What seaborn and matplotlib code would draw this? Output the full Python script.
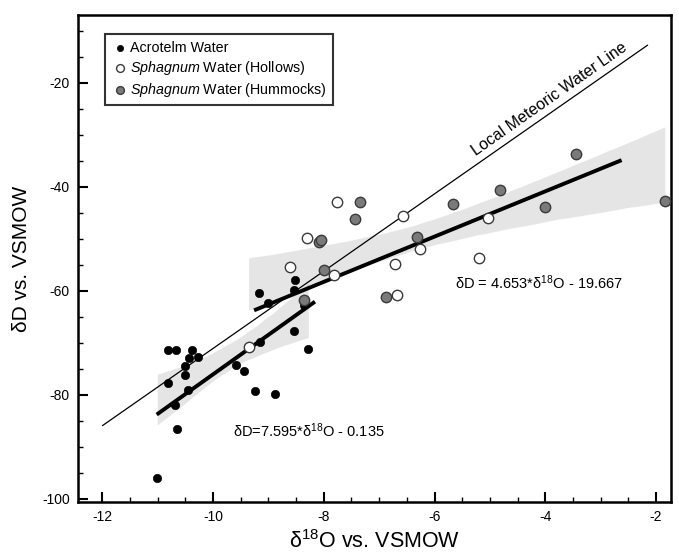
import numpy as np
import pandas as pd
import matplotlib
matplotlib.use('Agg')
import matplotlib.pyplot as plt
import seaborn as sns

# delta values (per mil vs VSMOW)
acro_d18o = [-10.81, -10.67, -10.38, -10.44, -10.27, -10.50, -10.51, -10.82, -10.45,
             -10.69, -10.66, -11.01, -9.59, -9.44, -9.15, -9.24, -8.89, -9.17, -9.00,
             -8.52, -8.53, -8.35, -8.54, -8.28]
acro_dD = [-71.4, -71.4, -71.4, -72.9, -72.8, -74.5, -76.3, -77.7, -79.2,
           -82.0, -86.7, -96.0, -74.2, -75.5, -69.9, -79.3, -79.8, -60.5, -62.4,
           -58.0, -59.8, -62.8, -67.8, -71.2]

hollow_d18o = [-9.36, -8.61, -8.30, -7.76, -7.82, -6.57, -6.71, -6.68, -6.26, -5.04, -5.20]
hollow_dD = [-70.8, -55.4, -49.8, -43.0, -56.9, -45.7, -54.8, -60.8, -51.9, -46.1, -53.8]

hummock_d18o = [-8.35, -8.08, -8.05, -7.99, -7.44, -7.34, -6.88, -6.31, -5.66, -4.82,
                -4.01, -3.44, -1.84]
hummock_dD = [-61.7, -50.7, -50.3, -56.0, -46.3, -42.9, -61.3, -49.6, -43.3, -40.7,
              -44.0, -33.7, -42.7]

# fitted lines (slope, intercept) as drawn on the chart, and their x spans
acro_fit = (7.595, -0.135)
acro_span = [-11.02, -8.16]
sph_fit = (4.35, -23.5)
sph_span = [-9.26, -2.62]

# local meteoric water line
lmwl_fit = (7.43, 3.2)
lmwl_span = [-12.0, -2.15]

eq_acro = r'δD=7.595*δ$^{18}$O - 0.135'
eq_sph = r'δD = 4.653*δ$^{18}$O - 19.667'

acro = pd.DataFrame({'d18O': acro_d18o, 'dD': acro_dD})
hol = pd.DataFrame({'d18O': hollow_d18o, 'dD': hollow_dD})
hum = pd.DataFrame({'d18O': hummock_d18o, 'dD': hummock_dD})
sph = pd.concat([hol, hum], ignore_index=True)

sns.set_style('ticks', {'axes.edgecolor': 'black', 'xtick.color': 'black',
                        'ytick.color': 'black', 'text.color': 'black',
                        'axes.labelcolor': 'black'})
plt.rcParams['font.family'] = ['Liberation Sans', 'DejaVu Sans']
plt.rcParams['mathtext.fontset'] = 'custom'
plt.rcParams['mathtext.rm'] = 'Liberation Sans'
plt.rcParams['mathtext.it'] = 'Liberation Sans:italic'
plt.rcParams['axes.unicode_minus'] = False

fig = plt.figure(figsize=(6.79, 5.6), dpi=100)
ax = fig.add_axes([0.115, 0.104, 0.873, 0.869])

# meteoric water line
lx = np.array(lmwl_span)
ax.plot(lx, lmwl_fit[0] * lx + lmwl_fit[1], color='black', lw=0.9, zorder=2)
ax.text(-3.92, -23.2, 'Local Meteoric Water Line', rotation=35, fontsize=11.5,
        ha='center', va='center')

# confidence bands from seaborn
band = dict(color='black', scatter=False, truncate=True, ci=95,
            line_kws={'lw': 0})
sns.regplot(data=acro, x='d18O', y='dD', ax=ax, **band)
sns.regplot(data=sph, x='d18O', y='dD', ax=ax, **band)
for coll in ax.collections:
    coll.set_alpha(0.1)

for (m, b), span in [(acro_fit, acro_span), (sph_fit, sph_span)]:
    fx = np.array(span)
    ax.plot(fx, m * fx + b, color='black', lw=2.8, zorder=3, solid_capstyle='butt')

sns.scatterplot(data=acro, x='d18O', y='dD', ax=ax, color='black', edgecolor='black',
                s=36, label='Acrotelm Water', zorder=4)
sns.scatterplot(data=hol, x='d18O', y='dD', ax=ax, color='white', edgecolor='#3a3a3a',
                linewidth=1.0, s=56, label=r'$\it{Sphagnum}$ Water (Hollows)', zorder=4)
sns.scatterplot(data=hum, x='d18O', y='dD', ax=ax, color='#7a7a7a', edgecolor='#3a3a3a',
                linewidth=1.0, s=56, label=r'$\it{Sphagnum}$ Water (Hummocks)', zorder=4)

ax.text(-5.63, -58.4, eq_sph, fontsize=10.5, ha='left', va='center')
ax.text(-9.64, -87.0, eq_acro, fontsize=10.5, ha='left', va='center')

ax.set_xlim(-12.44, -1.73)
ax.set_ylim(-100.6, -7)
ax.set_xticks([-12, -10, -8, -6, -4, -2])
ax.set_yticks([-100, -80, -60, -40, -20])
ax.set_xticks(np.arange(-12, -1.5, 0.5), minor=True)
ax.set_yticks(np.arange(-100, -7, 5), minor=True)
ax.tick_params(which='major', direction='in', length=7, width=1.5, labelsize=10, pad=6)
ax.tick_params(which='minor', direction='in', length=3.5, width=1.0)
for sp in ax.spines.values():
    sp.set_linewidth(1.8)
    sp.set_visible(True)

ax.set_xlabel(r'δ$^{18}$O vs. VSMOW', fontsize=15.5, labelpad=4)
ax.set_ylabel('δD vs. VSMOW', fontsize=15, labelpad=8)

leg = ax.legend(loc='upper left', bbox_to_anchor=(0.033, 0.975), fontsize=10.3,
                frameon=True, fancybox=False, edgecolor='black', handletextpad=0.1,
                borderpad=0.45, labelspacing=0.28, handlelength=1.2, markerscale=0.75)
leg.get_frame().set_linewidth(1.5)

fig.savefig('out.png', dpi=100)
